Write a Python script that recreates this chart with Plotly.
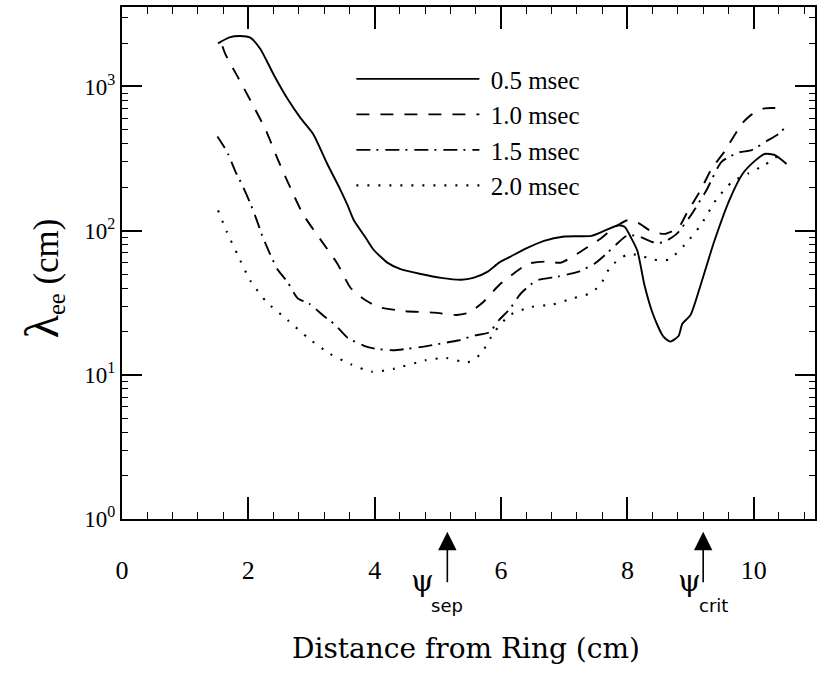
import plotly.graph_objects as go

# ---------------- data ----------------
x_05 = [1.52, 1.70, 1.87, 2.03, 2.19, 2.40, 2.62, 2.83, 3.03, 3.25, 3.45, 3.57, 3.67, 3.86, 3.98,
        4.20, 4.41, 4.73, 5.05, 5.37, 5.56, 5.79, 5.97, 6.15, 6.39, 6.68, 7.00, 7.43, 7.64, 7.86,
        7.96, 8.06, 8.16, 8.27, 8.41, 8.57, 8.68, 8.81, 8.87, 9.00, 9.16, 9.37, 9.62, 9.83, 10.00,
        10.17, 10.33, 10.52]
y_05 = [1990, 2190, 2240, 2180, 1820, 1210, 820, 600, 465, 290, 195, 150, 118, 89, 74,
        60, 54, 50, 47, 45.6, 47, 52, 60, 66, 75, 85, 91, 92, 100, 109,
        106, 89, 72, 42, 26, 18.4, 17, 18.6, 22.6, 26, 42, 83, 165, 250, 300,
        340, 335, 290]

x_10 = [1.59, 1.64, 1.83, 2.06, 2.27, 2.48, 2.67, 2.87, 3.14, 3.41, 3.62, 3.85, 4.05, 4.46, 4.94,
        5.30, 5.49, 5.72, 5.97, 6.19, 6.43, 6.70, 6.95, 7.27, 7.59, 7.75, 8.00, 8.17, 8.38, 8.59,
        8.81, 8.94, 9.17, 9.33, 9.54, 9.81, 9.97, 10.17, 10.46]
y_10 = [1900, 1660, 1170, 760, 505, 302, 196, 129, 87, 59, 40, 33, 29.6, 27.7, 27,
        26, 27, 32, 42, 50, 59, 61, 60, 72, 89, 102, 118, 113, 99, 95,
        105, 132, 195, 267, 355, 550, 640, 705, 705]

x_15 = [1.51, 1.61, 1.68, 1.79, 1.90, 2.03, 2.14, 2.22, 2.33, 2.46, 2.62, 2.78, 2.97, 3.19, 3.37,
        3.57, 3.83, 4.00, 4.29, 4.54, 4.78, 5.05, 5.32, 5.57, 5.81, 5.97, 6.14, 6.31, 6.56, 6.90,
        7.23, 7.48, 7.65, 7.82, 7.99, 8.16, 8.41, 8.57, 8.78, 8.99, 9.25, 9.49, 9.76, 9.97, 10.20,
        10.40, 10.48]
y_15 = [450, 385, 340, 260, 208, 155, 116, 92, 71, 54, 44, 34, 31, 25.7, 22.3,
        18.1, 15.9, 15.2, 14.8, 15.2, 15.7, 16.5, 17.3, 18.7, 19.7, 24, 28.7, 36.5, 45, 48,
        52, 59, 68, 80, 92, 92, 83, 83, 95, 125, 190, 300, 348, 362, 417,
        470, 510]

x_20 = [1.52, 1.66, 1.83, 2.03, 2.29, 2.62, 2.96, 3.29, 3.63, 3.96, 4.30, 4.80, 5.13, 5.47, 5.68,
        5.89, 6.14, 6.48, 6.81, 7.14, 7.40, 7.57, 7.73, 7.99, 8.16, 8.41, 8.66, 8.91, 9.16, 9.41,
        9.66, 9.92, 10.17, 10.38]
y_20 = [138, 98, 68, 45, 32, 24, 17.8, 14, 11.8, 10.5, 11, 12.6, 13.1, 12.2, 14,
        19.7, 26, 29.6, 30.7, 34, 36.6, 42, 56, 68, 68, 63, 63, 80, 109, 165,
        218, 250, 285, 330]

series_names = ["0.5 msec", "1.0 msec", "1.5 msec", "2.0 msec"]

x_ticks = [0, 2, 4, 6, 8, 10]
x_ticklabels = ["0", "2", "4", "6", "8", "10"]
y_ticks = [1, 10, 100, 1000]
y_ticklabels = ["10<sup>0</sup>", "10<sup>1</sup>", "10<sup>2</sup>", "10<sup>3</sup>"]

psi_sep_x = 5.15
psi_crit_x = 9.2

# ---------------- figure ----------------
dashes = ["solid", "13px,11px", "14px,6px,2px,7px", "2px,9px"]
widths = [1.9, 1.9, 1.9, 2.1]
xs = [x_05, x_10, x_15, x_20]
ys = [y_05, y_10, y_15, y_20]

fig = go.Figure()
for name, xv, yv, d, w in zip(series_names, xs, ys, dashes, widths):
    fig.add_trace(go.Scatter(x=xv, y=yv, mode="lines", name="\u00a0" + name,
                             line=dict(color="black", width=w, dash=d, shape="spline", smoothing=0.6)))

minor_y = [k * 10 ** n for n in range(0, 4) for k in range(2, 10)]

fig.update_layout(
    width=830, height=676,
    margin=dict(l=122, r=15, t=5, b=157),
    paper_bgcolor="white", plot_bgcolor="white",
    showlegend=True,
    legend=dict(x=0.331, y=0.904, xanchor="left", yanchor="top",
                bgcolor="rgba(0,0,0,0)", itemwidth=123,
                font=dict(family="Liberation Serif", size=25, color="black"),
                tracegroupgap=0),
    font=dict(family="Liberation Serif", color="black"),
)

fig.update_xaxes(
    range=[0, 10.97], showgrid=False, zeroline=False,
    showline=True, linecolor="black", linewidth=2, mirror="ticks",
    ticks="inside", ticklen=22, tickwidth=1.5, tickcolor="black",
    tickvals=x_ticks, ticktext=x_ticklabels,
    tickfont=dict(family="Liberation Serif", size=26, color="black"),
    ticklabelstandoff=27,
    minor=dict(ticks="inside", ticklen=7, tickwidth=1.2, tickcolor="black", dtick=0.4, tick0=0, showgrid=False),
)
fig.update_yaxes(
    type="log", range=[0, 3.551], showgrid=False, zeroline=False,
    showline=True, linecolor="black", linewidth=2, mirror="ticks",
    ticks="inside", ticklen=20, tickwidth=1.5, tickcolor="black",
    tickvals=y_ticks, ticktext=y_ticklabels,
    tickfont=dict(family="Liberation Serif", size=23, color="black"),
    minor=dict(ticks="inside", ticklen=6, tickwidth=1.2, tickcolor="black", tickvals=minor_y, showgrid=False),
)

# axis titles as annotations
fig.add_annotation(xref="paper", yref="paper", x=0.497, y=-0.289, showarrow=False,
                   text="Distance from Ring (cm)",
                   font=dict(family="DejaVu Serif", size=28, color="black"))
fig.add_annotation(xref="paper", yref="paper", x=-0.158, y=0.470, textangle=-90, showarrow=False,
                   text="<span style='font-size:48px'>λ</span><sub>ee</sub> (cm)",
                   font=dict(family="Liberation Serif", size=35, color="black"))

# psi markers
for px, lab, psi_shift, lab_shift in [(psi_sep_x, "sep", -25, 0), (psi_crit_x, "crit", -14, 10)]:
    fig.add_annotation(x=px, xref="x", yref="paper", y=-0.025, ax=0, ay=52,
                       showarrow=True, arrowhead=2, arrowsize=2.3, arrowwidth=1.6,
                       arrowcolor="black", text="")
    fig.add_annotation(x=px, xref="x", yref="paper", y=-0.158, xshift=psi_shift, showarrow=False,
                       text="ψ", font=dict(family="DejaVu Serif", size=29, color="black"))
    fig.add_annotation(x=px, xref="x", yref="paper", y=-0.193, xshift=lab_shift, showarrow=False,
                       text=lab, font=dict(family="DejaVu Sans", size=18, color="black"))

fig.write_html("out.html")
